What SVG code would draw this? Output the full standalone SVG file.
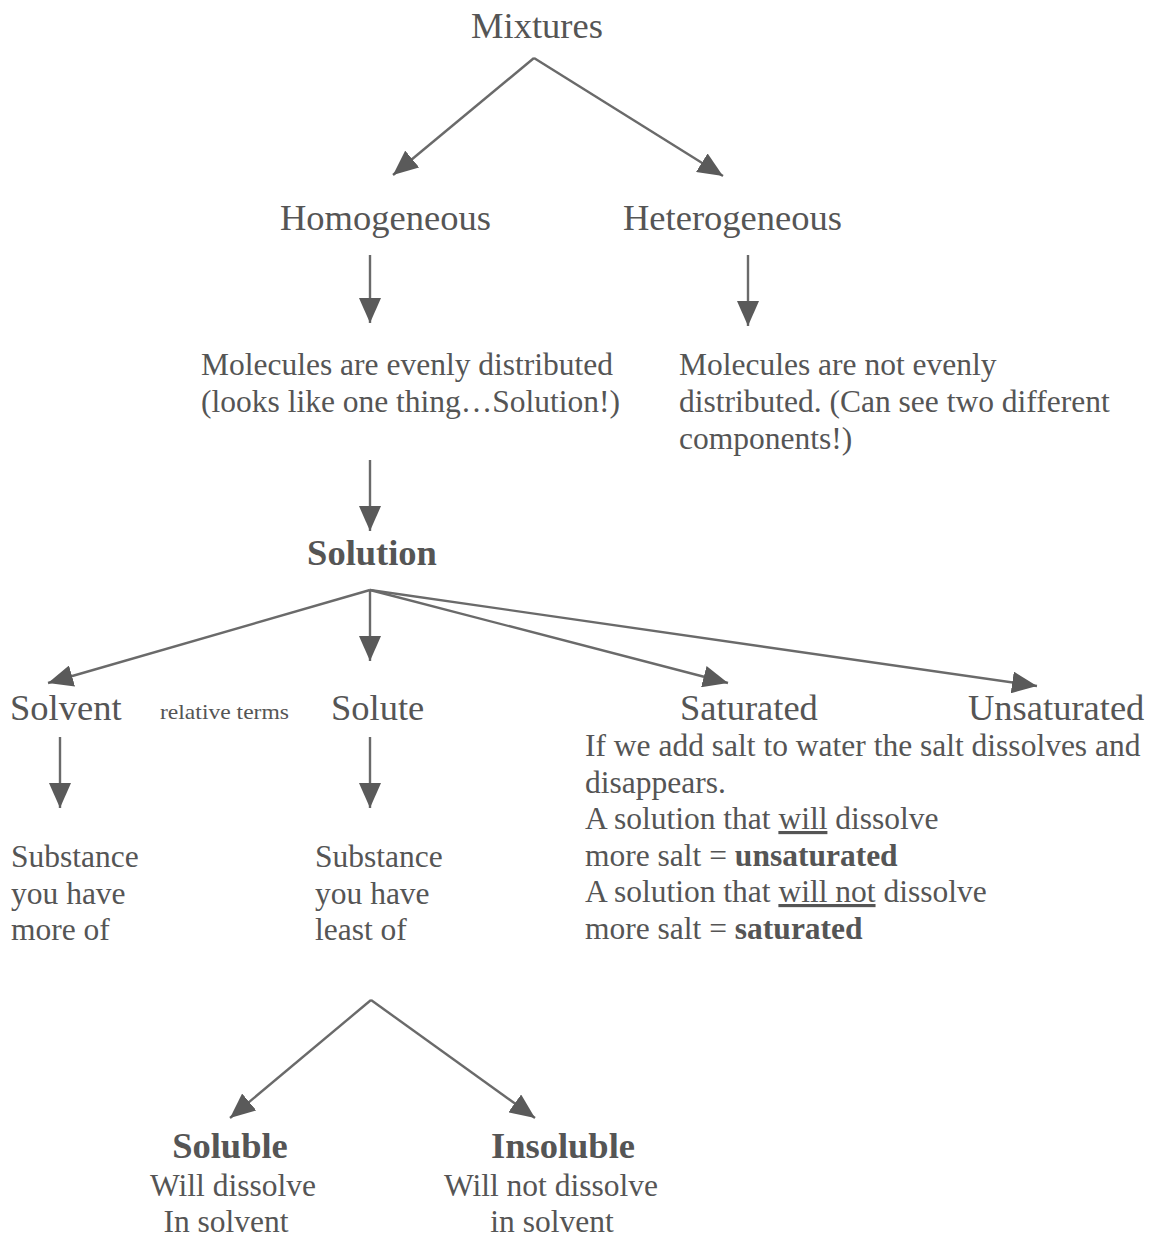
<svg xmlns="http://www.w3.org/2000/svg" width="1149" height="1241" viewBox="0 0 1149 1241">
<style>
text { font-family: "Liberation Serif", "Times New Roman", serif; fill: #555; }
.h { font-size: 36.5px; }
.b { font-size: 31.5px; }
.bold { font-weight: bold; }
.u { text-decoration: underline; }
.small { font-size: 21px; }
.conn line { stroke: #6a6a6a; stroke-width: 2.4; fill: none; marker-end: url(#ah); }
</style>
<defs>
<marker id="ah" markerUnits="userSpaceOnUse" markerWidth="26" markerHeight="22" refX="25" refY="11" orient="auto">
<path d="M0,0 L25,11 L0,22 z" fill="#5a5a5a"/>
</marker>
</defs>
<rect width="1149" height="1241" fill="#fff"/>

<g class="conn" id="connectors">
<line x1="534" y1="58" x2="393" y2="175"/>
<line x1="534" y1="58" x2="723" y2="176"/>
<line x1="370" y1="255" x2="370" y2="323"/>
<line x1="748" y1="255" x2="748" y2="326"/>
<line x1="370" y1="460" x2="370" y2="531"/>
<line x1="370" y1="590" x2="48" y2="683"/>
<line x1="370" y1="590" x2="370" y2="661"/>
<line x1="370" y1="590" x2="728" y2="683"/>
<line x1="370" y1="590" x2="1037" y2="686"/>
<line x1="60" y1="737" x2="60" y2="808"/>
<line x1="370" y1="737" x2="370" y2="808"/>
<line x1="371" y1="1000" x2="230" y2="1118"/>
<line x1="371" y1="1000" x2="535" y2="1118"/>
</g>

<g id="mixtures"><text class="h" x="537" y="38" text-anchor="middle">Mixtures</text></g>
<g id="homogeneous"><text class="h" x="280" y="230">Homogeneous</text></g>
<g id="heterogeneous"><text class="h" x="623" y="230">Heterogeneous</text></g>

<g id="homog-desc">
<text class="b" x="201" y="375">Molecules are evenly distributed</text>
<text class="b" x="201" y="412">(looks like one thing…Solution!)</text>
</g>
<g id="heterog-desc">
<text class="b" x="679" y="375">Molecules are not evenly</text>
<text class="b" x="679" y="412">distributed. (Can see two different</text>
<text class="b" x="679" y="449">components!)</text>
</g>

<g id="solution"><text class="h bold" x="372" y="565" text-anchor="middle">Solution</text></g>

<g id="solvent"><text class="h" x="10" y="720">Solvent</text></g>
<g id="relative-terms"><text class="small" x="160" y="719" textLength="129" lengthAdjust="spacingAndGlyphs">relative terms</text></g>
<g id="solute"><text class="h" x="331" y="720">Solute</text></g>
<g id="saturated"><text class="h" x="680" y="720">Saturated</text></g>
<g id="unsaturated"><text class="h" x="968" y="720">Unsaturated</text></g>

<g id="saturation-desc">
<text class="b" x="585" y="756">If we add salt to water the salt dissolves and</text>
<text class="b" x="585" y="793">disappears.</text>
<text class="b" x="585" y="829">A solution that <tspan class="u">will</tspan> dissolve</text>
<text class="b" x="585" y="866">more salt = <tspan class="bold">unsaturated</tspan></text>
<text class="b" x="585" y="902">A solution that <tspan class="u">will not</tspan> dissolve</text>
<text class="b" x="585" y="939">more salt = <tspan class="bold">saturated</tspan></text>
</g>

<g id="solvent-desc">
<text class="b" x="11" y="867">Substance</text>
<text class="b" x="11" y="904">you have</text>
<text class="b" x="11" y="940">more of</text>
</g>
<g id="solute-desc">
<text class="b" x="315" y="867">Substance</text>
<text class="b" x="315" y="904">you have</text>
<text class="b" x="315" y="940">least of</text>
</g>

<g id="soluble">
<text class="h bold" x="230" y="1158" text-anchor="middle">Soluble</text>
<text class="b" x="233" y="1196" text-anchor="middle">Will dissolve</text>
<text class="b" x="226" y="1232" text-anchor="middle">In solvent</text>
</g>
<g id="insoluble">
<text class="h bold" x="563" y="1158" text-anchor="middle">Insoluble</text>
<text class="b" x="551" y="1196" text-anchor="middle">Will not dissolve</text>
<text class="b" x="552" y="1232" text-anchor="middle">in solvent</text>
</g>
</svg>
